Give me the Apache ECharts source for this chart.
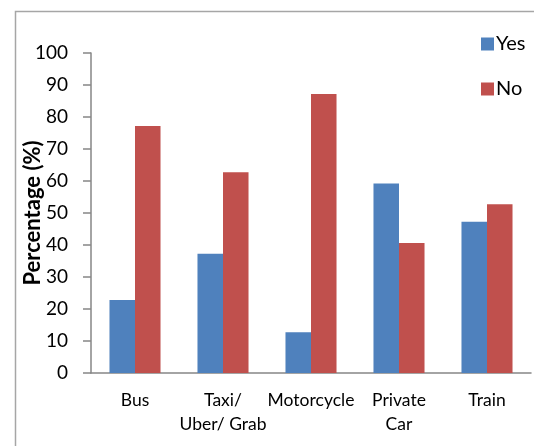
<!DOCTYPE html>
<html>
<head>
<meta charset="utf-8">
<script src="https://cdn.jsdelivr.net/npm/echarts@6/dist/echarts.min.js"></script>
<style>
  body { margin: 0; background: #fff; }
  #chart { width: 534px; height: 446px; }
</style>
</head>
<body>
<div id="chart"></div>
<script>
// transport modes and share of answers (%)
const categories = ["Bus", "Taxi/\nUber/ Grab", "Motorcycle", "Private\nCar", "Train"];
const yesValues = [22.8, 37.3, 12.7, 59.2, 47.3];
const noValues = [77.2, 62.7, 87.2, 40.6, 52.7];
const seriesNames = ["Yes", "No"];

const font = "Lato, 'Open Sans', sans-serif";
const axisGray = "#868686";

const chart = echarts.init(document.getElementById("chart"));
chart.setOption({
  animation: false,
  backgroundColor: "#fff",
  textStyle: { fontFamily: font, color: "#000" },
  graphic: [
    {
      type: "rect",
      left: 13,
      top: 9,
      shape: { width: 600, height: 600 },
      style: { fill: "none", stroke: "#a6a6a6", lineWidth: 1.5 },
      silent: true,
    },
  ],
  legend: {
    data: seriesNames,
    orient: "vertical",
    left: 476,
    top: 29,
    itemWidth: 13,
    itemHeight: 13,
    itemGap: 25,
    icon: "rect",
    textStyle: { fontSize: 20, fontFamily: font, color: "#000", padding: [0, 0, 0, -3] },
  },
  grid: { left: 91, right: 3, top: 53, bottom: 73, containLabel: false },
  xAxis: {
    type: "category",
    data: categories,
    axisLine: { lineStyle: { color: axisGray, width: 1.5 } },
    axisTick: { length: 6, lineStyle: { color: axisGray, width: 1.5 } },
    axisLabel: {
      fontSize: 17.5,
      fontFamily: font,
      color: "#000",
      lineHeight: 24,
      margin: 15,
      interval: 0,
    },
  },
  yAxis: {
    type: "value",
    min: 0,
    max: 100,
    interval: 10,
    name: "Percentage (%)",
    nameLocation: "middle",
    nameGap: 47,
    nameMoveOverlap: false,
    nameTextStyle: { fontSize: 22, fontWeight: "bold", fontFamily: font, color: "#000" },
    splitLine: { show: false },
    axisLine: { show: true, lineStyle: { color: axisGray, width: 1.5 } },
    axisTick: { show: true, length: 8, lineStyle: { color: axisGray, width: 1.5 } },
    axisLabel: { fontSize: 19, fontFamily: font, color: "#000", margin: 23 },
  },
  series: [
    {
      name: seriesNames[0],
      type: "bar",
      data: yesValues,
      barGap: "0%",
      barCategoryGap: "42%",
      itemStyle: { color: "#4F81BD" },
    },
    {
      name: seriesNames[1],
      type: "bar",
      data: noValues,
      barGap: "0%",
      barCategoryGap: "42%",
      itemStyle: { color: "#C0504D" },
    },
  ],
});
</script>
</body>
</html>
